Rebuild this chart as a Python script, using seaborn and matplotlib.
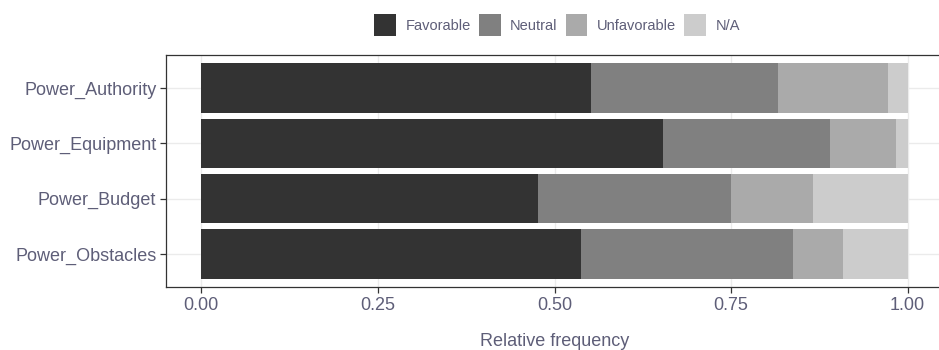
import matplotlib
matplotlib.use("Agg")
import matplotlib.pyplot as plt
import seaborn as sns
import pandas as pd
import numpy as np
from matplotlib.patches import Patch

items = ["Power_Authority", "Power_Equipment", "Power_Budget", "Power_Obstacles"]
levels = ["Favorable", "Neutral", "Unfavorable", "N/A"]
favorable = [0.552, 0.654, 0.477, 0.537]
neutral = [0.264, 0.236, 0.273, 0.301]
unfavorable = [0.156, 0.093, 0.116, 0.071]
na = [0.028, 0.017, 0.134, 0.091]
colors = ["#333333", "#808080", "#AAAAAA", "#CCCCCC"]
xticks = [0.0, 0.25, 0.5, 0.75, 1.0]
xticklabels = ["0.00", "0.25", "0.50", "0.75", "1.00"]

sns.set_theme(style="white")
plt.rcParams["font.family"] = ["Liberation Sans", "DejaVu Sans"]
txt = "#5E5E78"

df = pd.DataFrame({"item": items, "Favorable": favorable, "Neutral": neutral,
                   "Unfavorable": unfavorable, "N/A": na})
cum = df[levels].cumsum(axis=1)

fig = plt.figure(figsize=(9.39, 3.5), dpi=100)
# x: -0.05 -> 166 px, 1.0 -> ~906 px; right edge falls just past the image
ax = fig.add_axes([166 / 939, 63 / 350, 777 / 939, 232 / 350])

for lev, col in reversed(list(zip(levels, colors))):
    sns.barplot(x=cum[lev], y=df["item"], order=items, color=col, width=0.9,
                saturation=1, ax=ax, linewidth=0, zorder=3)

ax.set_xlim(-0.05, 1.05)
ax.set_ylim(3.6, -0.6)
ax.set_xticks(xticks)
ax.set_xticklabels(xticklabels)
ax.grid(True, which="major", axis="both", color="#EBEBEB", linewidth=1.0, zorder=0)
ax.set_axisbelow(True)
for s in ax.spines.values():
    s.set_visible(True)
    s.set_color("#333333")
    s.set_linewidth(0.9)
ax.tick_params(axis="both", which="major", length=4, width=0.9, color="#333333",
               labelsize=13, labelcolor=txt, pad=3, left=True, bottom=True)
ax.set_ylabel("")
ax.set_xlabel("Relative frequency", fontsize=13, color=txt, labelpad=14)

handles = [Patch(facecolor=c, edgecolor="none", label=l) for l, c in zip(levels, colors)]
fig.legend(handles=handles, loc="center", bbox_to_anchor=(557 / 939, 1 - 25 / 350),
           ncol=4, frameon=False, fontsize=10.5, labelcolor=txt,
           handlelength=1.5, handleheight=1.9, handletextpad=0.65,
           columnspacing=0.55, borderaxespad=0, borderpad=0)

fig.savefig("out.png", dpi=100)
